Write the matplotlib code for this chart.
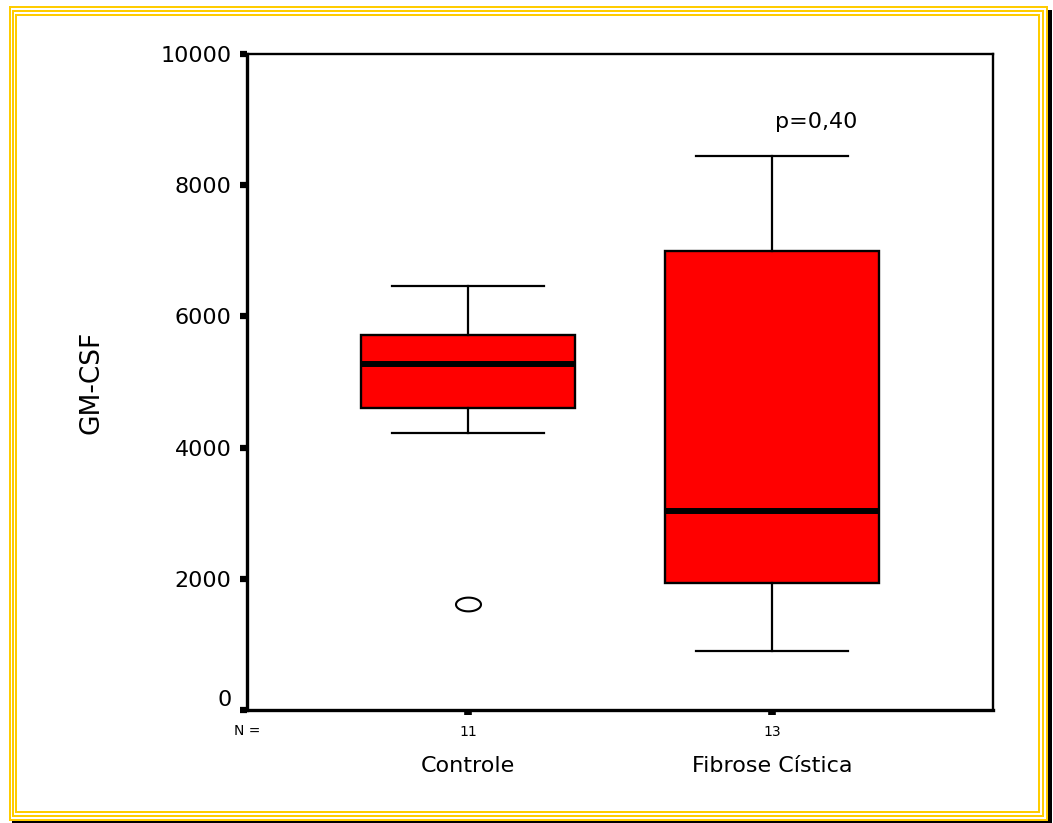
import matplotlib
matplotlib.use("Agg")
import matplotlib.pyplot as plt
from matplotlib.patches import Rectangle
from matplotlib.path import Path
import numpy as np
import matplotlib.transforms as mtransforms

# ---- data ----
groups = ["Controle", "Fibrose Cística"]
n_counts = [11, 13]
whisker_low = [4220, 900]
q1 = [4605, 1940]
median = [5275, 3035]
q3 = [5720, 6995]
whisker_high = [6465, 8440]
outliers = [[1610], []]
y_ticks = [0, 2000, 4000, 6000, 8000, 10000]
p_text = "p=0,40"
y_label = "GM-CSF"

W, H = 1053, 823
fig = plt.figure(figsize=(W / 100, H / 100), dpi=100)
fig.patch.set_facecolor("white")
plt.rcParams['font.family'] = ['DejaVu Sans']

# ---- decorative triple yellow frame with black shadow (pixel boxes) ----
def prect(x0, y0, x1, y1, color):
    fig.add_artist(Rectangle((x0 / W, 1 - y1 / H), (x1 - x0) / W, (y1 - y0) / H,
                             transform=fig.transFigure, facecolor=color,
                             edgecolor="none", antialiased=False, zorder=-5))

yellow = "#ffcc00"
prect(1048, 10, 1052, 823, "black")
prect(12, 821, 1052, 823, "black")
for (x0, y0, x1, y1, c) in [(9, 6, 1048, 821, yellow), (11, 8, 1046, 819, "white"),
                            (12, 10, 1044, 817, yellow), (14, 12, 1042, 815, "white"),
                            (15, 14, 1040, 813, yellow), (17, 16, 1038, 811, "white")]:
    prect(x0, y0, x1, y1, c)

ax = fig.add_axes([247 / W, 1 - 710 / H, (993 - 247) / W, (710 - 54) / H])

stats = []
for i in range(len(groups)):
    stats.append(dict(whislo=whisker_low[i], q1=q1[i], med=median[i], q3=q3[i],
                      whishi=whisker_high[i], fliers=outliers[i], label=str(n_counts[i])))

# elliptical outlier marker (horizontally stretched circle)
t = np.linspace(0, 2 * np.pi, 60)
ell = Path(np.column_stack([np.cos(t), 0.55 * np.sin(t)]), closed=True)

ax.bxp(stats, positions=[1, 2], widths=0.707, patch_artist=True,
       showfliers=True,
       boxprops=dict(facecolor="#ff0000", edgecolor="black", linewidth=1.7),
       medianprops=dict(color="black", linewidth=4.3, solid_capstyle="butt"),
       whiskerprops=dict(color="black", linewidth=1.6),
       capprops=dict(color="black", linewidth=1.6),
       capwidths=0.5,
       flierprops=dict(marker=ell, markersize=18, markerfacecolor="none",
                       markeredgecolor="black", markeredgewidth=1.5))

ax.set_xlim(0.273, 2.727)
ax.set_ylim(0, 10000)
ax.set_yticks(y_ticks)
ax.set_yticklabels([str(v) for v in y_ticks])
ax.set_xticks([1, 2])
ax.set_xticklabels([str(n) for n in n_counts])

for side in ["left", "bottom"]:
    ax.spines[side].set_linewidth(2.4)
for side in ["top", "right"]:
    ax.spines[side].set_linewidth(1.7)

ax.tick_params(axis="y", direction="out", length=5, width=4.5, pad=6, labelsize=16)
ax.tick_params(axis="x", direction="out", length=3.5, width=5.5, pad=7, labelsize=10)

# shift the "0" label upward as in the reference
ax.yaxis.get_major_ticks()[0].label1.set_va("bottom")

ax.set_ylabel(y_label, fontsize=19, labelpad=0)
ax.yaxis.set_label_coords((105 - 247) / (993 - 247), (710 - 382) / (710 - 54))

trans = mtransforms.blended_transform_factory(ax.transData, ax.transAxes)
for i, g in enumerate(groups):
    ax.text(i + 1, -(766 - 710) / (710 - 54), g, transform=trans,
            ha="center", va="center", fontsize=16)
ax.text(0.273, -(731 - 710) / (710 - 54), "N =", transform=trans,
        ha="center", va="center", fontsize=10)

ax.text((816 - 247) / (993 - 247), (710 - 122) / (710 - 54), p_text,
        transform=ax.transAxes, ha="center", va="center", fontsize=16)

fig.savefig("out.png", dpi=100, facecolor="white")
